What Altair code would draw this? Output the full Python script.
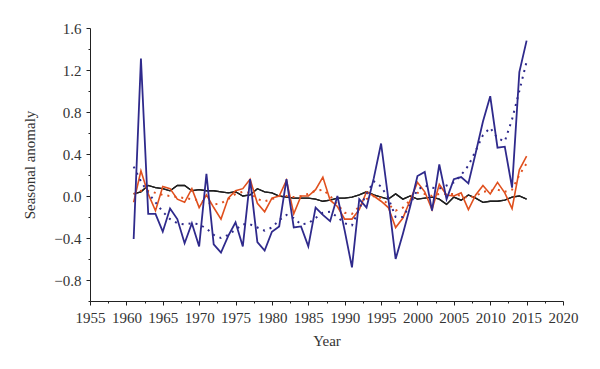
import altair as alt
import pandas as pd

years = list(range(1961, 2016))

blue_obs = [-0.41, 1.31, -0.17, -0.17, -0.34, -0.12, -0.22, -0.45, -0.26, -0.48,
            0.21, -0.46, -0.54, -0.38, -0.25, -0.48, 0.16, -0.44, -0.52, -0.34,
            -0.29, 0.16, -0.30, -0.29, -0.48, -0.11, -0.18, -0.24, 0.00, -0.33,
            -0.68, -0.03, -0.11, 0.17, 0.50, -0.03, -0.60, -0.36, -0.10, 0.19,
            0.23, -0.14, 0.30, -0.03, 0.16, 0.18, 0.12, 0.41, 0.71, 0.95,
            0.46, 0.47, 0.08, 1.18, 1.48]
blue_smooth = [0.28, 0.14, 0.03, -0.06, -0.15, -0.22, -0.26, -0.27, -0.26, -0.27,
               -0.31, -0.37, -0.40, -0.37, -0.32, -0.27, -0.27, -0.30, -0.33, -0.30,
               -0.23, -0.18, -0.21, -0.27, -0.26, -0.21, -0.16, -0.15, -0.20, -0.26,
               -0.28, -0.12, 0.02, 0.14, 0.09, -0.02, -0.20, -0.20, -0.08, 0.06,
               0.10, 0.08, 0.07, 0.10, 0.13, 0.20, 0.29, 0.43, 0.58, 0.65,
               0.55, 0.52, 0.73, 1.00, 1.28]
orange_obs = [-0.06, 0.24, 0.02, -0.14, 0.09, 0.07, -0.03, -0.06, 0.07, -0.11,
              0.01, -0.11, -0.22, -0.02, 0.05, 0.07, 0.16, -0.07, -0.15, -0.02,
              0.00, 0.15, -0.17, 0.00, 0.00, 0.06, 0.18, -0.04, -0.10, -0.22,
              -0.22, -0.13, 0.04, 0.00, -0.05, -0.11, -0.30, -0.21, -0.04, 0.13,
              0.04, -0.13, 0.11, 0.01, 0.00, 0.03, -0.13, 0.01, 0.10, 0.02,
              0.13, 0.03, -0.12, 0.25, 0.38]
orange_smooth = [0.02, 0.05, 0.05, 0.03, 0.01, 0.00, -0.01, -0.02, -0.03, -0.04,
                 -0.06, -0.08, -0.07, -0.03, 0.02, 0.04, 0.03, -0.03, -0.05, -0.03,
                 0.00, 0.00, -0.01, 0.00, 0.02, 0.05, 0.06, 0.00, -0.08, -0.16,
                 -0.17, -0.10, -0.03, 0.00, -0.02, -0.08, -0.14, -0.11, -0.04, 0.03,
                 0.02, 0.00, 0.02, 0.02, 0.02, 0.00, -0.02, 0.00, 0.04, 0.05,
                 0.06, 0.04, 0.06, 0.20, 0.31]
black_obs = [0.02, 0.04, 0.10, 0.08, 0.07, 0.05, 0.10, 0.10, 0.05, 0.06,
             0.05, 0.05, 0.04, 0.03, 0.04, 0.00, 0.01, 0.07, 0.04, 0.03,
             0.00, -0.01, -0.02, -0.02, -0.02, -0.03, -0.05, -0.04, -0.02, -0.02,
             -0.01, 0.01, 0.04, 0.01, -0.01, -0.03, 0.02, -0.03, 0.00, -0.03,
             -0.02, -0.01, -0.03, -0.08, -0.01, -0.04, 0.01, -0.02, -0.06, -0.05,
             -0.05, -0.04, -0.01, 0.00, -0.03]

x_labels = list(range(1955, 2021, 5))
x_minor = [v + 2.5 for v in range(1955, 2020, 5)]
y_labels = [-0.8, -0.4, 0.0, 0.4, 0.8, 1.2, 1.6]
y_minor = [-1.0, -0.6, -0.2, 0.2, 0.6, 1.0, 1.4]

BLUE = "#2f2a8c"
ORANGE = "#e0501e"
BLACK = "#1e1e1e"
FONT = "Liberation Serif"
TXT = "#333333"

df = pd.DataFrame({
    "Year": years,
    "blue_obs": blue_obs,
    "blue_smooth": blue_smooth,
    "orange_obs": orange_obs,
    "orange_smooth": orange_smooth,
    "black_obs": black_obs,
})

xscale = alt.Scale(domain=[1955, 2020], nice=False, zero=False)
yscale = alt.Scale(domain=[-1.0, 1.6], nice=False, zero=False)

main_x_axis = alt.Axis(values=x_labels, format="d", title="Year", tickSize=4,
                       labelPadding=5, titlePadding=8, grid=False,
                       labelOverlap=False, labelFlush=False,
                       domainColor="#222", tickColor="#222", orient="bottom")
main_y_axis = alt.Axis(values=y_labels, format=".1f", title="Seasonal anomaly",
                       tickSize=4, labelPadding=5, titlePadding=16, grid=False,
                       labelOverlap=False, labelFlush=False,
                       domainColor="#222", tickColor="#222", orient="left")
minor_x_axis = alt.Axis(values=x_minor, labels=False, title=None, tickSize=2,
                        domain=False, grid=False, tickColor="#222", orient="bottom")
minor_y_axis = alt.Axis(values=y_minor, labels=False, title=None, tickSize=2,
                        domain=False, grid=False, tickColor="#222", orient="left")

base = alt.Chart(df)


def line(field, color, dashed=False, width=1.6, xaxis=None, yaxis=None):
    kw = dict(color=color, strokeWidth=width, interpolate="linear")
    if dashed:
        kw.update(strokeDash=[2, 5], strokeWidth=2.0)
    return base.mark_line(**kw).encode(
        x=alt.X("Year:Q", scale=xscale, axis=xaxis),
        y=alt.Y(f"{field}:Q", scale=yscale, axis=yaxis),
    )


minor_layer = line("black_obs", BLACK, width=1.3, xaxis=minor_x_axis, yaxis=minor_y_axis)
black_layer = line("black_obs", BLACK, width=1.3, xaxis=main_x_axis, yaxis=main_y_axis)
orange_s = line("orange_smooth", ORANGE, dashed=True)
orange_o = line("orange_obs", ORANGE, width=1.6)
blue_s = line("blue_smooth", BLUE, dashed=True)
blue_o = line("blue_obs", BLUE, width=1.8)

chart = alt.layer(
    black_layer, minor_layer, orange_s, orange_o, blue_s, blue_o
).resolve_axis(x="independent", y="independent").properties(
    width=473, height=273,
    autosize=alt.AutoSizeParams(type="none"),
    padding={"left": 82, "top": 20, "right": 29, "bottom": 60},
).configure_view(stroke=None).configure_axis(
    labelFont=FONT, titleFont=FONT, labelFontSize=15, titleFontSize=15,
    labelColor=TXT, titleColor=TXT, titleFontWeight="normal",
)

chart.save("out.html", embed_options={"renderer": "svg", "actions": False})
